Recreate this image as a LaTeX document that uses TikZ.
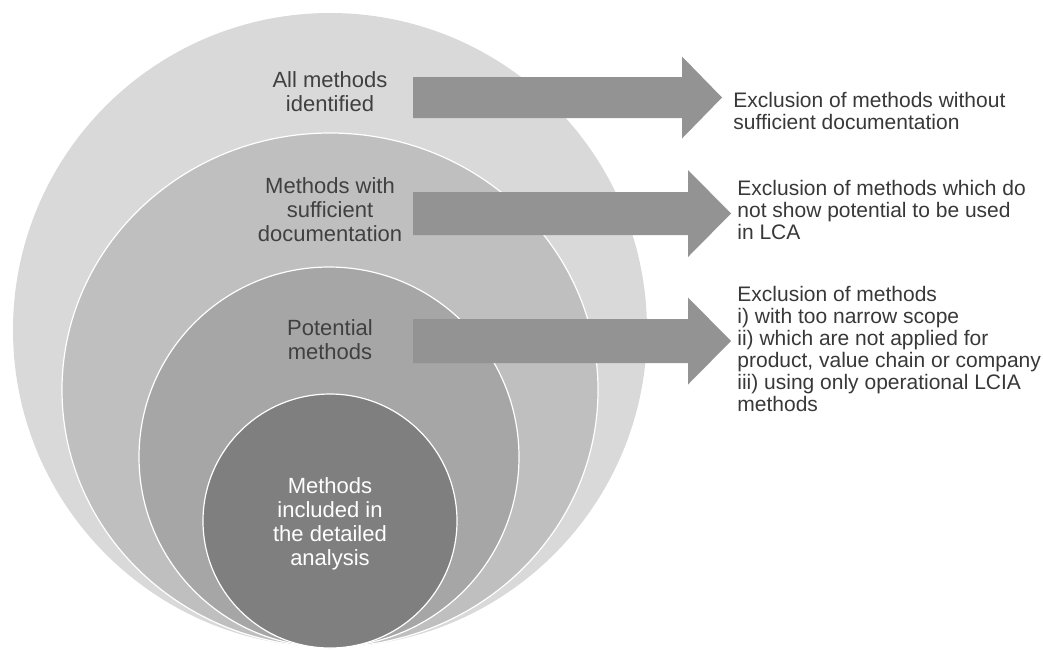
\documentclass[tikz,border=0pt]{standalone}
\usepackage{fontspec}
\setmainfont{Liberation Sans}
\definecolor{ringA}{HTML}{D9D9D9}
\definecolor{ringB}{HTML}{BFBFBF}
\definecolor{ringC}{HTML}{A6A6A6}
\definecolor{ringD}{HTML}{7F7F7F}
\definecolor{arrowgray}{HTML}{939393}
\definecolor{labelgray}{HTML}{404040}
\definecolor{notegray}{HTML}{383838}
\tikzset{
  ring/.style={draw=white, line width=0.6pt},
  lbl/.style={align=center, text=labelgray, inner sep=0pt, font=\fontsize{11}{12}\selectfont},
  note/.style={align=left, anchor=west, text=notegray, inner sep=0pt, font=\fontsize{10.5}{11}\selectfont},
}
\begin{document}
\begin{tikzpicture}[x=0.5pt, y=-0.5pt, line join=round]
\useasboundingbox (0,0) rectangle (1043,650);
\coordinate (O1) at (330,330);
\coordinate (O2) at (330,390);
\coordinate (O3) at (329,457);
\coordinate (O4) at (330,521);
% nested circles
\fill[ringA] (O1) circle [radius=317];
\draw[ring, fill=ringB] (O2) ellipse [x radius=268, y radius=257];
\draw[ring, fill=ringC] (O3) circle [radius=190];
\draw[ring, fill=ringD] (O4) circle [radius=127];
% block arrows
\fill[arrowgray] (413,77) -- (682,77) -- (682,56.5) -- (722,97.5) -- (682,138.5) -- (682,118) -- (413,118) -- cycle;
\fill[arrowgray] (413,192) -- (688,192) -- (688,170) -- (731,213.5) -- (688,257) -- (688,235) -- (413,235) -- cycle;
\fill[arrowgray] (413,319) -- (688,319) -- (688,297.5) -- (731,341) -- (688,384.5) -- (688,363) -- (413,363) -- cycle;
% labels
\node[lbl] (allm) at (330,92) {All methods\\identified};
\node[lbl] (suff) at (330,210) {Methods with\\sufficient\\documentation};
\node[lbl] (pot) at (330,340) {Potential\\methods};
\node[lbl, text=white] (incl) at (330,524) {Methods\\included in\\the detailed\\analysis};
\node[note] (ex1) at (733,111) {Exclusion of methods without\\sufficient documentation};
\node[note] (ex2) at (737,210) {Exclusion of methods which do\\not show potential to be used\\in LCA};
\node[note] (ex3) at (737,349) {Exclusion of methods\\i) with too narrow scope\\ii) which are not applied for\\product, value chain or company\\iii) using only operational LCIA\\methods};
\end{tikzpicture}
\end{document}
